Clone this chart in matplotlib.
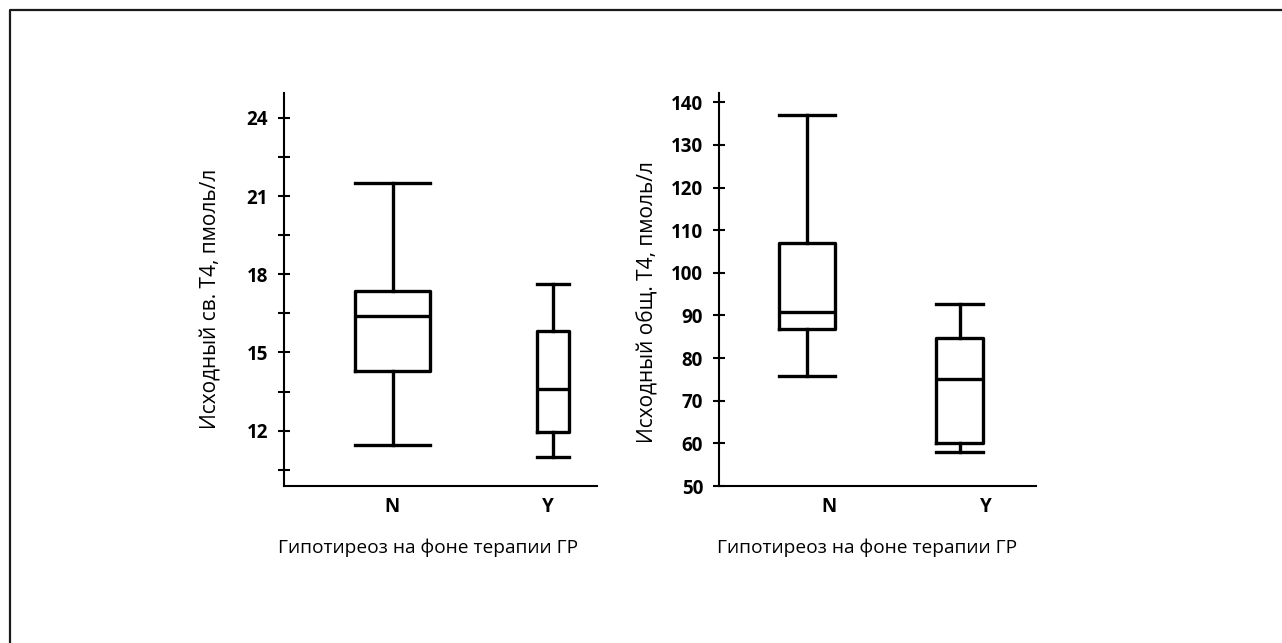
import matplotlib
matplotlib.use("Agg")
import matplotlib.pyplot as plt
from matplotlib.lines import Line2D

plt.rcParams['font.family'] = ['Open Sans', 'DejaVu Sans']

groups = ['N', 'Y']

# Free T4 (pmol/L)
ft4_whislo = [11.44, 11.0]
ft4_q1 = [14.29, 11.95]
ft4_med = [16.39, 13.59]
ft4_q3 = [17.36, 15.81]
ft4_whishi = [21.48, 17.64]

# Total T4
tt4_whislo = [75.8, 58.0]
tt4_q1 = [86.9, 60.1]
tt4_med = [90.7, 75.0]
tt4_q3 = [107.0, 84.8]
tt4_whishi = [137.1, 92.8]

ylabel_left = 'Исходный св. Т4, пмоль/л'
ylabel_right = 'Исходный общ. Т4, пмоль/л'
xlabel = 'Гипотиреоз на фоне терапии ГР'

W, H = 1282, 643
fig = plt.figure(figsize=(W / 100, H / 100), dpi=100)


def make_stats(lo, q1, med, q3, hi):
    return [dict(whislo=lo[i], q1=q1[i], med=med[i], q3=q3[i], whishi=hi[i],
                 fliers=[], label=groups[i]) for i in range(len(groups))]


def ax_rect(x0, x1, y0, y1):
    return [x0 / W, 1 - y1 / H, (x1 - x0) / W, (y1 - y0) / H]


box_lw = 2.4
props = dict(
    boxprops=dict(color='black', linewidth=box_lw),
    whiskerprops=dict(color='black', linewidth=box_lw),
    capprops=dict(color='black', linewidth=box_lw),
    medianprops=dict(color='black', linewidth=box_lw),
)


def style(ax):
    for s in ['top', 'right']:
        ax.spines[s].set_visible(False)
    for s in ['left', 'bottom']:
        ax.spines[s].set_linewidth(1.5)
    ax.tick_params(axis='y', which='both', direction='inout', length=9, width=1.5,
                   labelsize=13.5, pad=7)
    ax.tick_params(axis='x', length=0, labelsize=13.5, pad=8)
    for t in ax.get_yticklabels() + ax.get_xticklabels():
        t.set_fontweight('bold')


# Left panel
ax1 = fig.add_axes(ax_rect(284, 597, 93.3, 486))
st1 = make_stats(ft4_whislo, ft4_q1, ft4_med, ft4_q3, ft4_whishi)
for i, (s, w) in enumerate(zip(st1, [0.469, 0.206])):
    ax1.bxp([s], positions=[i + 1], widths=w, capwidths=w, showfliers=False,
            manage_ticks=False, **props)
ax1.set_xlim(0.319, 2.275)
ax1.set_ylim(9.875, 24.94)
ax1.set_yticks([12, 15, 18, 21, 24])
ax1.set_yticks([10.5, 13.5, 16.5, 19.5, 22.5], minor=True)
ax1.set_xticks([0.994, 1.969])
ax1.set_xticklabels(groups)
style(ax1)
ax1.set_ylabel(ylabel_left, fontsize=15)
ax1.yaxis.set_label_coords(-0.233, 0.476)
ax1.yaxis.label.set_va('center')
ax1.set_xlabel(xlabel, fontsize=13.8)
ax1.xaxis.set_label_coords(0.46, -0.158)
ax1.xaxis.label.set_va('center')

# Right panel
ax2 = fig.add_axes(ax_rect(719, 1036, 93.3, 486))
st2 = make_stats(tt4_whislo, tt4_q1, tt4_med, tt4_q3, tt4_whishi)
for i, (s, w) in enumerate(zip(st2, [0.366, 0.307])):
    ax2.bxp([s], positions=[i + 1], widths=w, capwidths=w, showfliers=False,
            manage_ticks=False, **props)
ax2.set_xlim(0.425, 2.497)
ax2.set_ylim(50, 142.1)
ax2.set_yticks(list(range(50, 141, 10)))
ax2.set_xticks([1.144, 2.17])
ax2.set_xticklabels(groups)
style(ax2)
ax2.set_ylabel(ylabel_right, fontsize=15)
ax2.yaxis.set_label_coords(-0.224, 0.468)
ax2.yaxis.label.set_va('center')
ax2.set_xlabel(xlabel, fontsize=13.8)
ax2.xaxis.set_label_coords(0.467, -0.158)
ax2.xaxis.label.set_va('center')

# Outer frame (top and left edges)
fx = 9.5 / W
fy = 1 - 9.5 / H
fig.add_artist(Line2D([fx, fx, 1.0], [0.0, fy, fy], transform=fig.transFigure,
                      color='#1a1a1a', linewidth=1.6))

fig.savefig('out.png', dpi=100)
